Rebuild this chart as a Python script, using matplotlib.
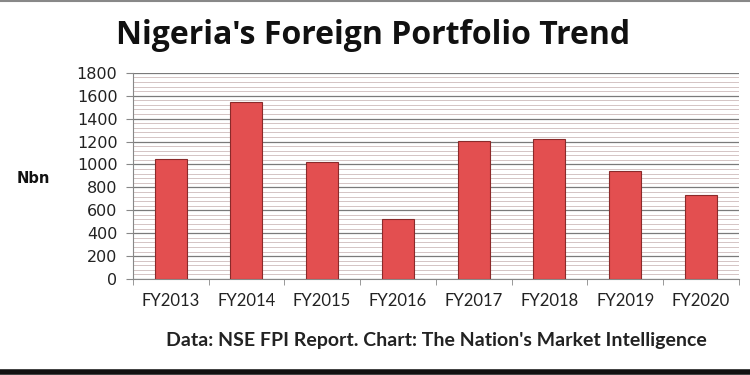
import numpy as np
import matplotlib.pyplot as plt
from matplotlib.ticker import MultipleLocator

# --- Data ---
years = ["FY2013", "FY2014", "FY2015", "FY2016", "FY2017", "FY2018", "FY2019", "FY2020"]
values = [1045, 1545, 1025, 520, 1205, 1220, 945, 735]

fig = plt.figure(figsize=(7.5, 3.75), dpi=100)
ax = fig.add_axes([0.177, 0.256, 0.808, 0.55])

x = np.arange(len(years))
ax.bar(x, values, width=0.42, color="#e34f50", edgecolor="#8a2a2a", linewidth=0.8, zorder=3)

ax.set_xlim(-0.5, len(years) - 0.5)
ax.set_ylim(0, 1800)
ax.yaxis.set_major_locator(MultipleLocator(200))
ax.yaxis.set_minor_locator(MultipleLocator(40))
ax.grid(axis="y", which="major", color="#7a7a7a", linewidth=0.9, zorder=0)
ax.grid(axis="y", which="minor", color="#d4c4c4", linewidth=0.7, zorder=0)

ax.set_xticks(x)
ax.set_xticklabels(years, fontfamily="Lato", fontsize=12, color="#222222")
ax.set_xticks(np.arange(len(years) + 1) - 0.5, minor=True)
ax.tick_params(axis="x", which="major", length=0, pad=10)
ax.tick_params(axis="x", which="minor", length=4, color="#888888")
ax.tick_params(axis="y", which="major", length=5, color="#888888", labelsize=11.5, pad=6)
ax.tick_params(axis="y", which="minor", length=0)
for lab in ax.get_yticklabels():
    lab.set_color("#222222")

for side in ["top", "right"]:
    ax.spines[side].set_visible(False)
ax.spines["left"].set_color("#888888")
ax.spines["bottom"].set_color("#888888")

fig.text(0.497, 0.905, "Nigeria's Foreign Portfolio Trend", ha="center", va="center",
         fontfamily="Open Sans", fontweight="bold", fontsize=23, color="#111111")
fig.text(0.044, 0.525, "Nbn", ha="center", va="center", fontfamily="DejaVu Sans",
         fontweight="bold", fontsize=10.5, color="#111111")
fig.text(0.582, 0.093, "Data: NSE FPI Report. Chart: The Nation's Market Intelligence",
         ha="center", va="center", fontfamily="Lato", fontweight="bold", fontsize=14,
         color="#222222")

# frame lines top and bottom
fig.add_artist(plt.Line2D([0, 1], [0.998, 0.998], color="#888888", linewidth=1.5))
fig.add_artist(plt.Line2D([0, 1], [0.007, 0.007], color="#111111", linewidth=4))

plt.savefig("out.png", dpi=100)
